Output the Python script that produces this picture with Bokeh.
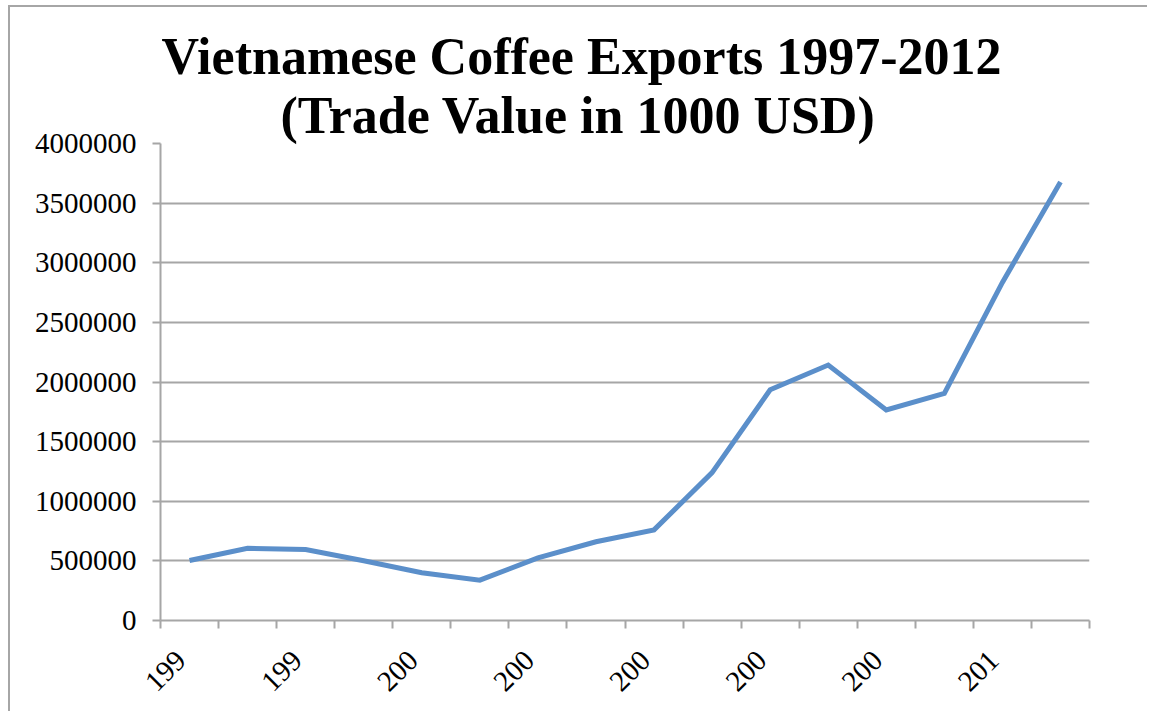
import math
from bokeh.plotting import figure
from bokeh.models import FixedTicker, NumeralTickFormatter, Range1d, Title
from bokeh.embed import file_html
from bokeh.resources import INLINE

# ---- data ----
years = [1997, 1998, 1999, 2000, 2001, 2002, 2003, 2004,
         2005, 2006, 2007, 2008, 2009, 2010, 2011, 2012]
trade_value = [503000, 605000, 595000, 501000, 400000, 338000, 525000, 660000,
               760000, 1240000, 1935000, 2142000, 1765000, 1904000, 2835000, 3678000]
# tick labels as they appear (truncated) on every other year
label_years = [1997, 1999, 2001, 2003, 2005, 2007, 2009, 2011]
label_texts = ["199", "199", "200", "200", "200", "200", "200", "201"]
y_ticks = [0, 500000, 1000000, 1500000, 2000000, 2500000, 3000000, 3500000, 4000000]
title_lines = ["Vietnamese Coffee Exports 1997-2012", "(Trade Value in 1000 USD)"]

GRAY = "#A6A6A6"
SERIF = "Liberation Serif"

OX, OY = 10, 7          # where the canvas starts on the page (after css border)
W, H = 1139, 706
ML = 160 - OX
MT = 143 - OY
MR = W - (1089 - OX)
MB = H - (620 - OY)

p = figure(width=W, height=H, output_backend="svg", toolbar_location=None,
           x_range=Range1d(years[0] - 0.5, years[-1] + 0.5),
           y_range=Range1d(y_ticks[0], y_ticks[-1]),
           min_border_left=ML, min_border_top=MT, min_border_right=MR,
           min_border_bottom=MB)
p.styles = {"margin-left": "8px", "margin-top": "5px",
            "border-left": "2px solid #A6A6A6", "border-top": "2px solid #A6A6A6"}
p.outline_line_color = None
p.background_fill_color = "white"
p.border_fill_color = "white"

p.line(years, trade_value, line_color="#5B8FCA", line_width=5,
       line_join="miter")

# x axis: labels near category centres, tick marks at category boundaries
LABEL_SHIFT = 0.15   # small visual nudge of the rotated labels to the left
xa = p.xaxis[0]
boundaries = [y - 0.5 for y in years] + [years[-1] + 0.5]
label_pos = [y - LABEL_SHIFT for y in label_years]
xa.ticker = FixedTicker(ticks=label_pos, minor_ticks=boundaries)
xa.major_label_overrides = {pos: t for pos, t in zip(label_pos, label_texts)}
xa.major_tick_line_color = None
xa.major_tick_out = 8
xa.major_tick_in = 0
xa.minor_tick_line_color = GRAY
xa.minor_tick_line_width = 2
xa.minor_tick_out = 8
xa.minor_tick_in = 0
xa.axis_line_color = GRAY
xa.axis_line_width = 2
xa.major_label_orientation = math.pi / 4
xa.major_label_standoff = 27
xa.major_label_text_font = SERIF
xa.major_label_text_font_size = "29px"
xa.major_label_text_color = "black"

ya = p.yaxis[0]
ya.ticker = FixedTicker(ticks=y_ticks)
ya.formatter = NumeralTickFormatter(format="0")
ya.minor_tick_line_color = None
ya.major_tick_line_color = GRAY
ya.major_tick_line_width = 2
ya.major_tick_out = 8
ya.major_tick_in = 0
ya.axis_line_color = GRAY
ya.axis_line_width = 2
ya.major_label_standoff = 16
ya.major_label_text_font = SERIF
ya.major_label_text_font_size = "29px"
ya.major_label_text_color = "black"

p.xgrid.grid_line_color = None
p.ygrid.ticker = FixedTicker(ticks=y_ticks)
p.ygrid.grid_line_color = GRAY
p.ygrid.grid_line_width = 2

# title: two lines, centred on the whole chart area (not on the frame)
title_center = 582 - OX
line_w = [842, 604]
for t, w in reversed(list(zip(title_lines, line_w))):
    p.add_layout(Title(text=t, align="left", offset=title_center - w / 2 - ML,
                       standoff=0, text_font=SERIF, text_font_style="bold",
                       text_font_size="52px", text_color="black"), "above")

open("out.html", "w").write(file_html(p, INLINE))
